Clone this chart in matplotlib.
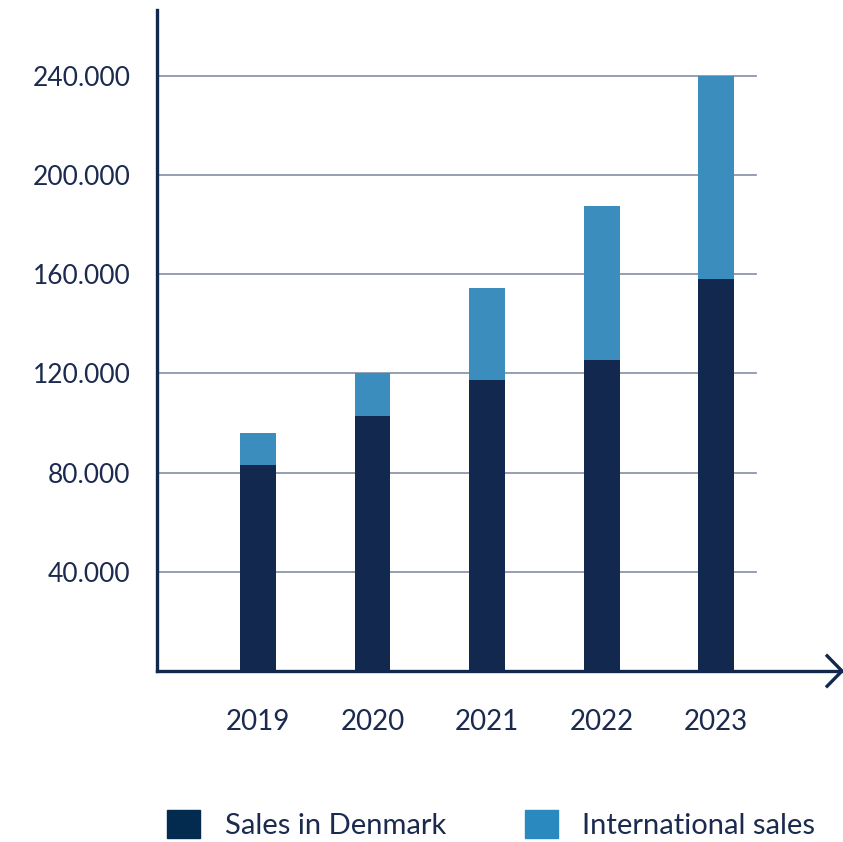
import matplotlib
matplotlib.use('Agg')
import matplotlib.pyplot as plt
from matplotlib.patches import Patch
from matplotlib.ticker import FuncFormatter

years = ['2019', '2020', '2021', '2022', '2023']
denmark = [83000, 103000, 117500, 125500, 158000]
international = [13000, 17000, 37000, 62000, 82000]
yticks = [40000, 80000, 120000, 160000, 200000, 240000]

navy = '#13284e'
blue = '#3b8dbd'
text_col = '#1b2a4e'
grid_col = '#8e97ad'

plt.rcParams['font.family'] = ['Lato', 'DejaVu Sans']

W, H = 843, 842
fig = plt.figure(figsize=(W / 100, H / 100), dpi=100)
# axes box in pixels: x 157..842, y 10..671 (from top)
ax = fig.add_axes([157 / W, 1 - 671 / H, (842 - 157) / W, (671 - 10) / H])

x = list(range(len(years)))
ax.set_xlim(-0.882, 5.10)
ax.set_ylim(0, 266600)

for t in yticks:
    ax.plot([-0.882, 4.35], [t, t], color=grid_col, lw=1.3, zorder=1)

ax.bar(x, denmark, width=0.314, color=navy, zorder=2)
ax.bar(x, international, width=0.314, bottom=denmark, color=blue, zorder=2)

for s in ['top', 'right']:
    ax.spines[s].set_visible(False)
for s in ['left', 'bottom']:
    ax.spines[s].set_color(navy)
    ax.spines[s].set_linewidth(2.4)
    ax.spines[s].set_zorder(3)

# chevron at end of x axis
ax.plot([4.96, 5.10, 4.96], [6600, 0, -6600], color=navy, lw=2.4,
        clip_on=False, solid_capstyle='butt', zorder=3)

ax.set_yticks(yticks)
ax.yaxis.set_major_formatter(FuncFormatter(lambda v, p: f'{int(v):,}'.replace(',', '.')))
ax.set_xticks(x)
ax.set_xticklabels(years)
ax.tick_params(axis='y', length=0, pad=19, labelsize=19, labelcolor=text_col)
ax.tick_params(axis='x', length=0, pad=27, labelsize=20, labelcolor=text_col)

handles = [Patch(color='#032a4f', label='Sales in Denmark'),
           Patch(color='#2a8abf', label='International sales')]
fig.legend(handles=handles, loc='center left', bbox_to_anchor=(167 / W, 1 - 824.5 / H),
           ncol=2, frameon=False, fontsize=21, handlelength=1.13, handleheight=1.13,
           handletextpad=0.85, columnspacing=2.7, borderpad=0, borderaxespad=0,
           labelcolor=text_col)

fig.savefig('out.png', dpi=100)
